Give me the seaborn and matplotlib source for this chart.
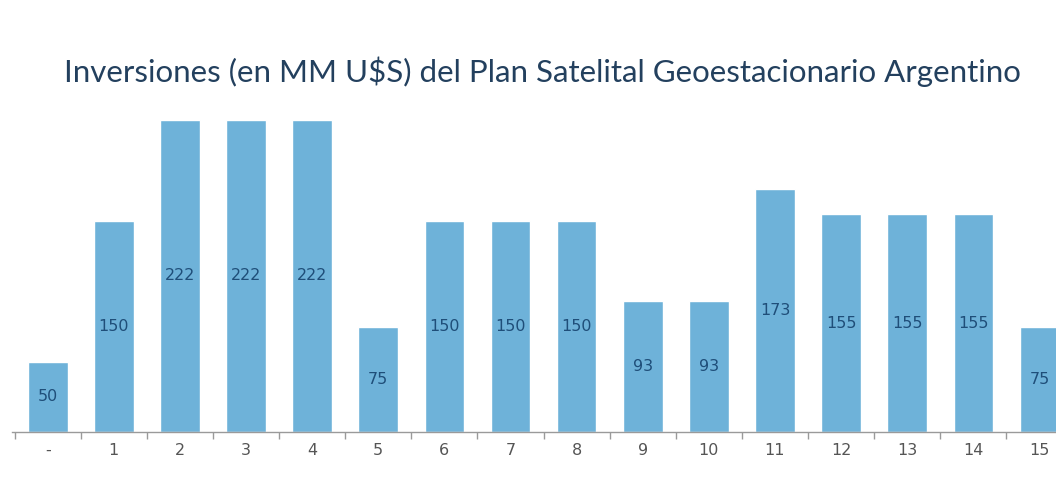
import matplotlib
matplotlib.use("Agg")
import matplotlib.pyplot as plt
import seaborn as sns
import pandas as pd
from matplotlib.ticker import FixedLocator

# Investment per period (millions of USD)
categories = ["-", "1", "2", "3", "4", "5", "6", "7", "8", "9", "10",
              "11", "12", "13", "14", "15"]
values = [50, 150, 222, 222, 222, 75, 150, 150, 150, 93, 93,
          173, 155, 155, 155, 75]
title = "Inversiones (en MM U$S) del Plan Satelital Geoestacionario Argentino"

df = pd.DataFrame({"periodo": categories, "inversion": values})

sns.set_theme(style="white")
plt.rcParams["font.family"] = ["DejaVu Sans"]

fig = plt.figure(figsize=(10.56, 4.88), dpi=100)
ax = fig.add_axes([12 / 1056, 56 / 488, 1 - 12 / 1056, 312 / 488])

bar_color = "#6eb2d9"
sns.barplot(data=df, x="periodo", y="inversion", order=categories,
            color=bar_color, saturation=1, width=0.6, ax=ax)

ax.set_xlim(-0.54, 15.25)
ax.set_ylim(0, 222)

# value labels at mid-height of each bar
for i, v in enumerate(values):
    ax.text(i, v / 2, str(v), ha="center", va="center",
            fontsize=11.5, color="#1f4e79", clip_on=False)

ax.set_xlabel("")
ax.set_ylabel("")
ax.set_yticks([])
for side in ["top", "right", "left"]:
    ax.spines[side].set_visible(False)
ax.spines["bottom"].set_color("#9a9a9a")
ax.spines["bottom"].set_linewidth(1.0)

ax.tick_params(axis="x", which="major", bottom=False, length=0, pad=8,
               labelsize=11.5, labelcolor="#555555")
ax.xaxis.set_minor_locator(FixedLocator([i - 0.5 for i in range(len(categories) + 1)]))
ax.tick_params(axis="x", which="minor", bottom=True, length=5, width=1,
               color="#9a9a9a", direction="out")

fig.text(542 / 1056, 1 - 72 / 488, title, ha="center", va="center",
         fontsize=22.5, color="#23405e", family=["Lato", "DejaVu Sans"])

fig.savefig("out.png", dpi=100, facecolor="white")
